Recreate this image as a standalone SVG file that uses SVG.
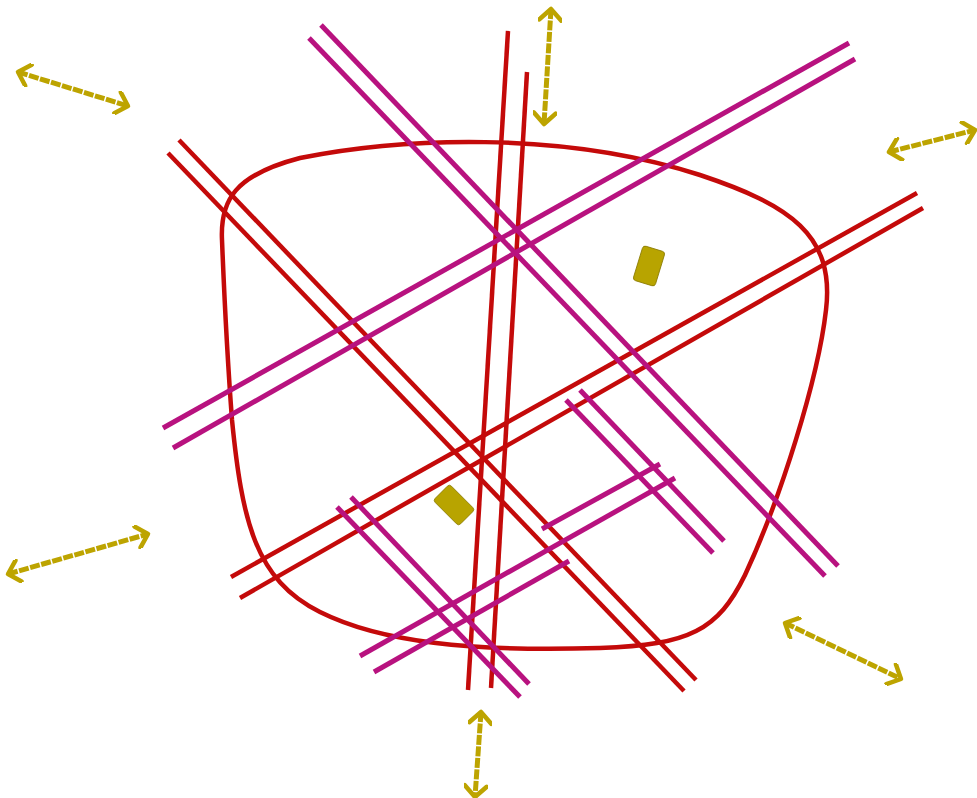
<svg xmlns="http://www.w3.org/2000/svg" width="977" height="798" viewBox="0 0 977 798">
<style>
.red{stroke:#c40a0a;stroke-width:4.5;fill:none;stroke-linecap:butt}
.mag{stroke:#b8127f;stroke-width:5;fill:none;stroke-linecap:butt}
.arr{stroke:#bda400;stroke-width:5;fill:none;stroke-dasharray:10 1.5;marker-start:url(#head);marker-end:url(#head)}
.blk{fill:#b8a400;stroke:#8a7a00;stroke-width:0.8}
</style>
<defs>
<marker id="head" viewBox="0 0 24 24" refX="20" refY="12" markerWidth="24" markerHeight="24" markerUnits="userSpaceOnUse" orient="auto-start-reverse">
<path d="M9,1 L20,12 L9,23" fill="none" stroke="#bda400" stroke-width="4.5" stroke-linecap="round" stroke-linejoin="round"/>
</marker>
</defs>
<rect width="977" height="798" fill="#ffffff"/>
<g id="boundary">
<path class="red" stroke-width="4" d="M 222,240 C 220,200 235,175 300,158 C 400,138 560,130 700,175 C 790,205 835,235 826,310 C 818,380 780,500 745,575 C 718,630 690,645 600,648 C 470,652 380,642 320,612 C 255,580 242,520 232,420 C 226,340 224,290 222,240 Z"/>
</g>
<g id="lines">
<line class="red" x1="168" y1="153" x2="684" y2="691"/>
<line class="red" x1="179" y1="140" x2="696" y2="680"/>
<line class="red" x1="508" y1="31" x2="468" y2="690"/>
<line class="red" x1="527" y1="72" x2="491" y2="688"/>
<line class="red" x1="917" y1="193" x2="231" y2="577"/>
<line class="red" x1="923" y1="208" x2="240" y2="598"/>
<line class="mag" x1="309" y1="38" x2="825" y2="576"/>
<line class="mag" x1="321" y1="25" x2="838" y2="566"/>
<line class="mag" x1="849" y1="43" x2="163" y2="428"/>
<line class="mag" x1="855" y1="59" x2="173" y2="448"/>
<line class="mag" x1="566" y1="400" x2="713" y2="553"/>
<line class="mag" x1="580" y1="390" x2="724" y2="541"/>
<line class="mag" x1="337" y1="507" x2="520" y2="697"/>
<line class="mag" x1="351" y1="497" x2="529" y2="684"/>
<line class="mag" x1="360" y1="656" x2="675" y2="478"/>
<line class="mag" x1="374" y1="672" x2="569" y2="561"/>
<line class="mag" x1="542" y1="529" x2="660" y2="464"/>
</g>
<g id="block1"><rect class="blk" x="-11.5" y="-18" width="23" height="36" rx="3" transform="translate(454,505) rotate(-45)"/></g>
<g id="block2"><rect class="blk" x="-11.5" y="-18" width="23" height="36" rx="3" transform="translate(649,266) rotate(17)"/></g>
<g id="connectors">
<line class="arr" x1="18" y1="72" x2="128" y2="106"/>
<line class="arr" x1="551" y1="9" x2="544" y2="124"/>
<line class="arr" x1="889" y1="152" x2="975" y2="130"/>
<line class="arr" x1="8" y1="574" x2="148" y2="534"/>
<line class="arr" x1="785" y1="623" x2="901" y2="679"/>
<line class="arr" x1="481" y1="712" x2="475" y2="797"/>
</g>
</svg>
